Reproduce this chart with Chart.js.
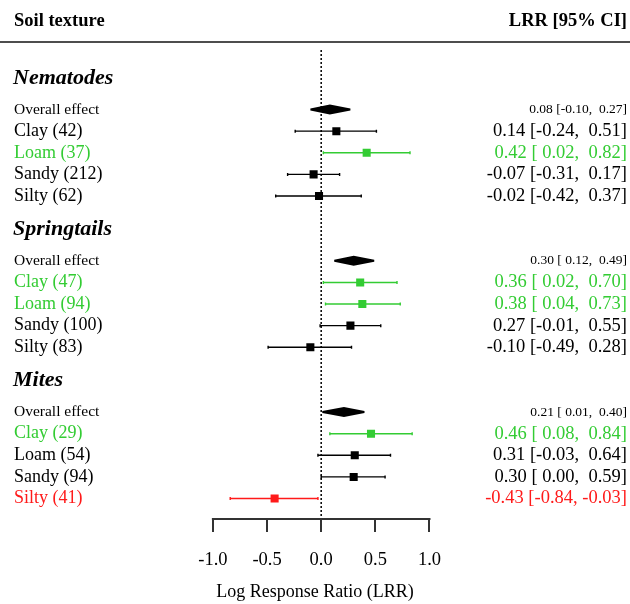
<!DOCTYPE html>
<html>
<head>
<meta charset="utf-8">
<script src="https://cdn.jsdelivr.net/npm/chart.js@4"></script>
<style>
  html, body { margin: 0; padding: 0; background: #ffffff; }
  #wrap { width: 630px; height: 604px; position: relative; }
</style>
</head>
<body>
<div id="wrap"><canvas id="forest"></canvas></div>
<script>
// groups and their studies
const groups = ['Nematodes', 'Springtails', 'Mites'];
const rowLabels = [
    ['Overall effect', 'Clay (42)', 'Loam (37)', 'Sandy (212)', 'Silty (62)'],
    ['Overall effect', 'Clay (47)', 'Loam (94)', 'Sandy (100)', 'Silty (83)'],
    ['Overall effect', 'Clay (29)', 'Loam (54)', 'Sandy (94)', 'Silty (41)']
];
// log response ratio + 95% CI
const lrr = [
    [0.08, 0.14, 0.42, -0.07, -0.02],
    [0.30, 0.36, 0.38, 0.27, -0.10],
    [0.21, 0.46, 0.31, 0.30, -0.43]
];
const ciLow = [
    [-0.10, -0.24, 0.02, -0.31, -0.42],
    [0.12, 0.02, 0.04, -0.01, -0.49],
    [0.01, 0.08, -0.03, 0.00, -0.84]
];
const ciHigh = [
    [0.27, 0.51, 0.82, 0.17, 0.37],
    [0.49, 0.70, 0.73, 0.55, 0.28],
    [0.40, 0.84, 0.64, 0.59, -0.03]
];
const tickVals = [-1.0, -0.5, 0.0, 0.5, 1.0];

const GREEN = '#33cc33';
const RED = '#ff1a1a';
const FONT = "'Liberation Serif', 'Times New Roman', serif";

function rowColor(g, i) {
    if (i === 0) return '#000000';
    if (ciLow[g][i] > 0) return GREEN;
    if (ciHigh[g][i] < 0) return RED;
    return '#000000';
}

// row positions: 7 rows per group (header + overall + 4 + gap)
const rows = [];
groups.forEach((name, g) => {
    rowLabels[g].forEach((lab, i) => {
        rows.push({ g: g, i: i, y: g * 7 + i, label: lab, est: lrr[g][i], lo: ciLow[g][i], hi: ciHigh[g][i], color: rowColor(g, i) });
    });
});
const studyRows = rows.filter(r => r.i > 0);
const overallRows = rows.filter(r => r.i === 0);

function fmt(v) {
    return v.toFixed(2);
}
function ciText(r) {
    return fmt(r.est) + ' [' + fmt(r.lo).padStart(5, ' ') + ', ' + fmt(r.hi).padStart(5, ' ') + ']';
}

const ROW_H = 21.85;
const TOP_ROW_PX = 105;
const PLOT_BOTTOM = 519;
const yMin = -TOP_ROW_PX / ROW_H;
const yMax = yMin + PLOT_BOTTOM / ROW_H;
const ZERO_PX = 321.3, UNIT_PX = 110.3;
const xMin = -ZERO_PX / UNIT_PX;
const xMax = (630 - ZERO_PX) / UNIT_PX;

// error bars, diamonds, dotted zero line, axis line and all row texts
const forestPlugin = {
    id: 'forestPlugin',
    beforeDatasetsDraw(chart) {
        const ctx = chart.ctx;
        const xs = chart.scales.x, ys = chart.scales.y;
        ctx.save();
        // zero line
        ctx.strokeStyle = '#000000';
        ctx.lineWidth = 1.5;
        ctx.setLineDash([2, 2]);
        ctx.beginPath();
        ctx.moveTo(xs.getPixelForValue(0), 50);
        ctx.lineTo(xs.getPixelForValue(0), chart.chartArea.bottom);
        ctx.stroke();
        ctx.setLineDash([]);
        // CI lines
        studyRows.forEach(r => {
            const y = ys.getPixelForValue(r.y);
            const x1 = xs.getPixelForValue(r.lo), x2 = xs.getPixelForValue(r.hi);
            ctx.strokeStyle = r.color;
            ctx.lineWidth = 1.4;
            ctx.beginPath();
            ctx.moveTo(x1, y); ctx.lineTo(x2, y);
            ctx.moveTo(x1, y - 1.5); ctx.lineTo(x1, y + 1.5);
            ctx.moveTo(x2, y - 1.5); ctx.lineTo(x2, y + 1.5);
            ctx.stroke();
        });
        // diamonds for overall effect
        overallRows.forEach(r => {
            const y = ys.getPixelForValue(r.y);
            const x1 = xs.getPixelForValue(r.lo), x2 = xs.getPixelForValue(r.hi);
            const xm = xs.getPixelForValue(r.est);
            ctx.fillStyle = '#000000';
            ctx.beginPath();
            ctx.moveTo(x1, y - 1);
            ctx.lineTo((x1 + xm) / 2, y - 3);
            ctx.lineTo(xm, y - 5);
            ctx.lineTo((x2 + xm) / 2, y - 3);
            ctx.lineTo(x2, y - 1);
            ctx.lineTo(x2, y + 1);
            ctx.lineTo((x2 + xm) / 2, y + 3);
            ctx.lineTo(xm, y + 5);
            ctx.lineTo((x1 + xm) / 2, y + 3);
            ctx.lineTo(x1, y + 1);
            ctx.closePath();
            ctx.fill();
        });
        ctx.restore();
    },
    afterDraw(chart) {
        const ctx = chart.ctx;
        const xs = chart.scales.x, ys = chart.scales.y;
        const W = chart.width;
        ctx.save();
        // axis line between -1 and 1
        ctx.strokeStyle = '#333333';
        ctx.lineWidth = 2;
        ctx.beginPath();
        ctx.moveTo(xs.getPixelForValue(tickVals[0]) - 1, chart.chartArea.bottom);
        ctx.lineTo(xs.getPixelForValue(tickVals[tickVals.length - 1]) + 1, chart.chartArea.bottom);
        ctx.stroke();
        // header
        ctx.fillStyle = '#000000';
        ctx.textBaseline = 'middle';
        ctx.font = 'bold 18.5px ' + FONT;
        ctx.textAlign = 'left';
        ctx.fillText('Soil texture', 14, 21);
        ctx.textAlign = 'right';
        ctx.fillText('LRR [95% CI]', W - 3, 21);
        ctx.strokeStyle = '#4d4d4d';
        ctx.lineWidth = 2;
        ctx.beginPath();
        ctx.moveTo(0, 42); ctx.lineTo(W, 42);
        ctx.stroke();
        // group titles
        groups.forEach((name, g) => {
            ctx.font = 'italic bold 22px ' + FONT;
            ctx.textAlign = 'left';
            ctx.fillStyle = '#000000';
            ctx.fillText(name, 13, ys.getPixelForValue(g * 7 - 1.45));
        });
        // row labels and values
        rows.forEach(r => {
            const y = ys.getPixelForValue(r.y);
            ctx.fillStyle = r.color;
            ctx.textAlign = 'left';
            ctx.font = (r.i === 0 ? '15.5px ' : '18px ') + FONT;
            ctx.fillText(r.label, 14, y);
            ctx.textAlign = 'right';
            ctx.font = (r.i === 0 ? '13.5px ' : '18.5px ') + FONT;
            ctx.fillText(ciText(r), W - 3, y);
        });
        ctx.restore();
    }
};

new Chart(document.getElementById('forest'), {
    type: 'scatter',
    data: {
        datasets: [{
            label: 'LRR',
            data: studyRows.map(r => ({ x: r.est, y: r.y })),
            pointStyle: 'rect',
            pointRadius: 5.7,
            pointHoverRadius: 5.7,
            backgroundColor: studyRows.map(r => r.color),
            borderColor: studyRows.map(r => r.color),
            borderWidth: 0
        }]
    },
    options: {
        responsive: true,
        maintainAspectRatio: false,
        animation: false,
        layout: { padding: 0 },
        plugins: {
            legend: { display: false },
            tooltip: { enabled: false }
        },
        scales: {
            x: {
                type: 'linear',
                min: xMin,
                max: xMax,
                afterFit: s => { s.height = 604 - PLOT_BOTTOM; },
                afterBuildTicks: s => { s.ticks = tickVals.map(v => ({ value: v })); },
                grid: {
                    drawOnChartArea: false,
                    drawTicks: true,
                    tickLength: 13,
                    color: '#333333',
                    lineWidth: 2
                },
                border: { display: false },
                ticks: {
                    autoSkip: false,
                    maxRotation: 0,
                    padding: 17,
                    color: '#000000',
                    font: { family: FONT, size: 18.5 },
                    callback: v => Number(v).toFixed(1)
                },
                title: {
                    display: true,
                    text: 'Log Response Ratio (LRR)',
                    color: '#000000',
                    font: { family: FONT, size: 18 },
                    padding: { top: 0, bottom: 1 }
                }
            },
            y: {
                type: 'linear',
                display: false,
                reverse: true,
                min: yMin,
                max: yMax
            }
        }
    },
    plugins: [forestPlugin]
});
</script>
</body>
</html>
